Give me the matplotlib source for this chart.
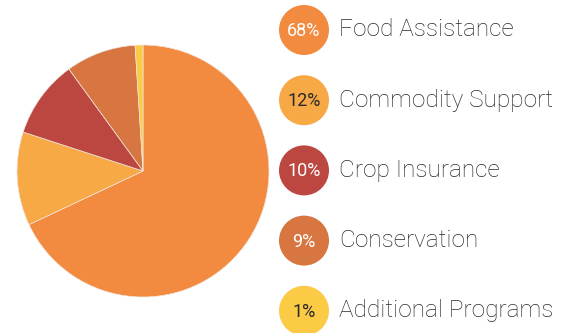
import matplotlib.pyplot as plt
from matplotlib.patches import Circle

# datos del grafico
categorias = ['Food Assistance', 'Commodity Support', 'Crop Insurance', 'Conservation', 'Additional Programs']
porcentajes = [68, 12, 10, 9, 1]
colores = ['#F28A3F', '#F6A945', '#BC4740', '#D87641', '#FBCB45']
color_texto = ['white', '#2a2a2a', 'white', 'white', '#2a2a2a']

fig = plt.figure(figsize=(5.71, 3.33), dpi=100)
ax = fig.add_axes([0, 0, 1, 1])

# pastel
ax.pie(porcentajes, colors=colores, startangle=90, counterclock=False,
       center=(143, 162), radius=126, frame=True,
       wedgeprops={'edgecolor': '#f3e6df', 'linewidth': 0.5})
ax.set_xlim(0, 571)
ax.set_ylim(0, 333)
ax.set_aspect('equal')
ax.axis('off')

# leyenda con circulos
for i in range(len(categorias)):
    y = 303 - i * 70.2
    ax.add_patch(Circle((304, y), 25, color=colores[i], lw=0))
    ax.text(304, y - 1, f'{porcentajes[i]}%', ha='center', va='center',
            fontsize=13, color=color_texto[i], family='Roboto')
    ax.text(339, y, categorias[i], ha='left', va='center', fontsize=17.6,
            color='#2a2a2a', family='Roboto', fontweight='light')

fig.savefig('out.png', dpi=100)
